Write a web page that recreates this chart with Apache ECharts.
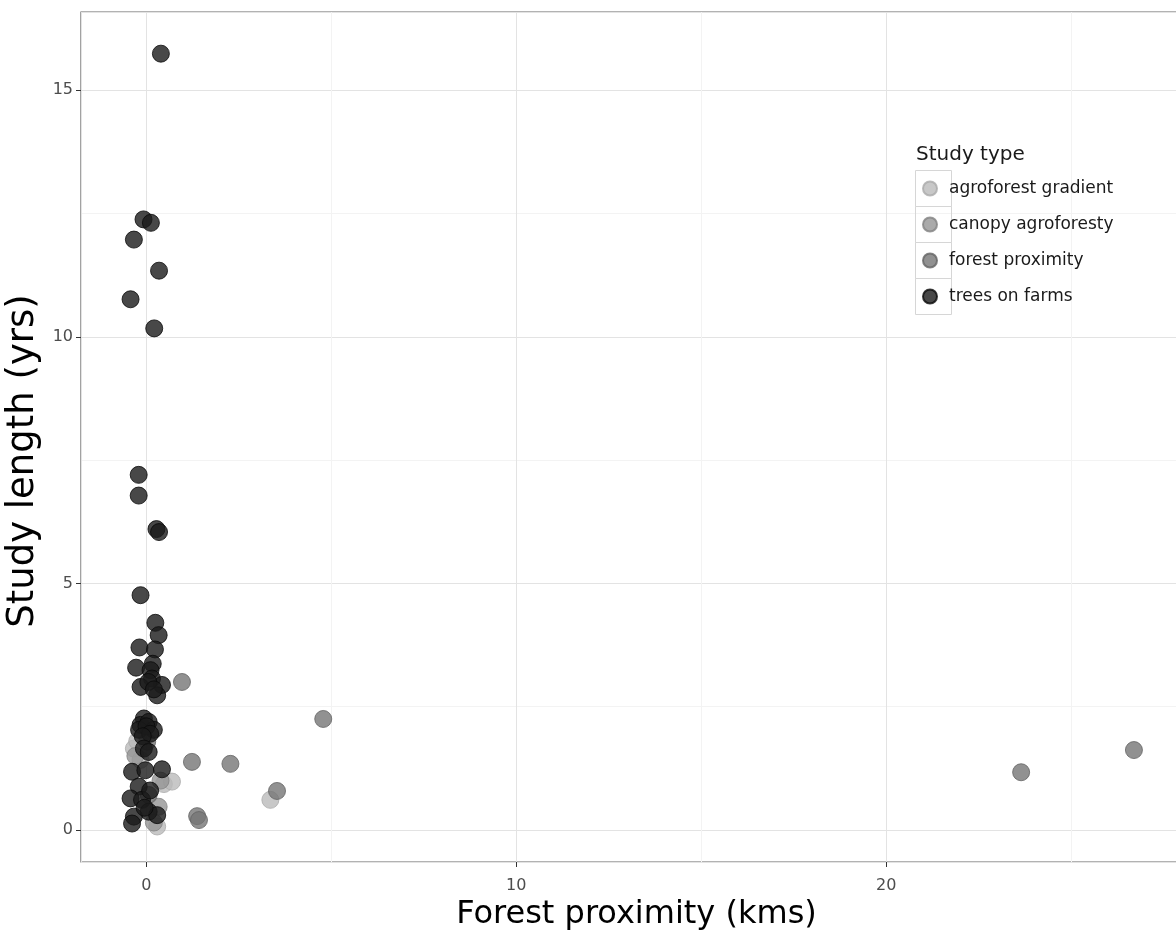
<!DOCTYPE html>
<html>
<head>
<meta charset="utf-8">
<script src="https://cdn.jsdelivr.net/npm/echarts@6/dist/echarts.min.js"></script>
<style>
html,body{margin:0;padding:0;background:#fff;}
#chart{width:1176px;height:936px;}
</style>
</head>
<body>
<div id="chart"></div>
<script>
// ---- data (x = forest proximity km, y = study length yrs) ----
const seriesNames = ['agroforest gradient', 'canopy agroforesty', 'forest proximity', 'trees on farms'];

const agroforestGradient = [
  [-0.34, 1.65], [-0.16, 1.42], [0.47, 0.93], [0.69, 0.98], [0.29, 0.07], [3.35, 0.61], [-0.25, 1.80]
];
const canopyAgroforesty = [
  [0.33, 0.47], [0.38, 1.00], [0.20, 0.15], [-0.30, 1.50]
];
const forestProximity = [
  [0.96, 3.00], [0.02, 1.79], [1.23, 1.38], [2.27, 1.34], [0.06, 0.71], [1.37, 0.28], [1.42, 0.20],
  [3.53, 0.79], [4.78, 2.25], [23.65, 1.17], [26.70, 1.62]
];
const treesOnFarms = [
  [0.39, 15.74], [-0.08, 12.38], [0.12, 12.31], [-0.34, 11.97], [0.34, 11.34], [-0.43, 10.76], [0.21, 10.17],
  [-0.21, 7.20], [-0.21, 6.78], [0.27, 6.10], [0.34, 6.04],
  [-0.16, 4.76], [0.24, 4.20], [0.33, 3.95], [-0.19, 3.70], [0.23, 3.66], [-0.28, 3.29], [0.17, 3.37],
  [0.11, 3.24], [0.15, 3.07], [0.42, 2.94], [-0.16, 2.90], [0.29, 2.73], [0.05, 3.00], [0.20, 2.85],
  [-0.07, 2.26], [-0.16, 2.13], [0.06, 2.19], [0.20, 2.03], [-0.20, 2.03], [0.00, 2.10], [0.10, 1.95], [-0.10, 1.90],
  [-0.07, 1.65], [0.06, 1.58],
  [-0.39, 1.18], [-0.03, 1.21], [0.42, 1.23], [-0.21, 0.88], [-0.43, 0.64], [-0.12, 0.61], [0.06, 0.37],
  [0.29, 0.30], [-0.34, 0.27], [-0.39, 0.13], [0.10, 0.80], [-0.05, 0.45]
];
const xTickLabels = [0, 10, 20];
const yTickLabels = [0, 5, 10, 15];

// ---- styling ----
const fills = ['rgba(186,186,186,0.8)', 'rgba(149,149,149,0.8)', 'rgba(117,117,117,0.8)', 'rgba(26,26,26,0.8)'];
const strokes = ['rgba(170,170,170,0.8)', 'rgba(130,130,130,0.8)', 'rgba(100,100,100,0.8)', 'rgba(10,10,10,0.8)'];
const font = 'DejaVu Sans';

const allData = [agroforestGradient, canopyAgroforesty, forestProximity, treesOnFarms];

const chart = echarts.init(document.getElementById('chart'), null, {renderer: 'canvas'});

const legendBoxes = seriesNames.map((n, i) => ({
  type: 'rect',
  left: 913, top: 168 + 36 * i,
  shape: {width: 36, height: 36},
  style: {fill: 'none', stroke: '#d6d6d6', lineWidth: 1},
  z: 1
}));

chart.setOption({
  animation: false,
  backgroundColor: '#ffffff',
  title: {
    text: 'Study type',
    left: 911, top: 140,
    textStyle: {fontFamily: font, fontSize: 20, fontWeight: 'normal', color: '#1a1a1a'}
  },
  legend: {
    orient: 'vertical',
    left: 917, top: 175,
    itemWidth: 28, itemHeight: 14, itemGap: 19,
    icon: 'circle',
    data: seriesNames,
    textStyle: {fontFamily: font, fontSize: 17, color: '#1a1a1a'},
    selectedMode: false
  },
  graphic: legendBoxes,
  grid: {
    left: 81, top: 12, right: -16, bottom: 74,
    containLabel: false,
    outerBoundsMode: 'none',
    show: true, borderColor: '#666666', borderWidth: 1.2, backgroundColor: '#ffffff'
  },
  xAxis: {
    type: 'value',
    min: -1.77, max: 28.27,
    minInterval: 10, maxInterval: 10, splitNumber: 3,
    name: 'Forest proximity (kms)',
    nameLocation: 'middle', nameGap: 36,
    nameTextStyle: {fontFamily: font, fontSize: 32, color: '#000'},
    axisLine: {show: false, onZero: false},
    axisTick: {show: true, length: 5, lineStyle: {color: '#333'}},
    axisLabel: {
      fontFamily: font, fontSize: 16, color: '#4d4d4d', margin: 16,
      showMinLabel: false, showMaxLabel: false,
      formatter: v => (xTickLabels.indexOf(Math.round(v * 100) / 100) >= 0 ? String(v) : '')
    },
    splitLine: {show: true, lineStyle: {color: '#e3e3e3', width: 1}},
    minorTick: {show: false, splitNumber: 2},
    minorSplitLine: {show: true, lineStyle: {color: '#f3f3f3', width: 1}}
  },
  yAxis: {
    type: 'value',
    min: -0.65, max: 16.585,
    minInterval: 5, maxInterval: 5, splitNumber: 4,
    name: 'Study length (yrs)',
    nameLocation: 'middle', nameGap: 32, nameRotate: 90,
    nameTextStyle: {fontFamily: font, fontSize: 37, color: '#000', padding: [0, 48, 0, 0]},
    axisLine: {show: false, onZero: false},
    axisTick: {show: true, length: 5, lineStyle: {color: '#333'}},
    axisLabel: {
      fontFamily: font, fontSize: 16, color: '#4d4d4d', margin: 8,
      showMinLabel: false, showMaxLabel: false,
      formatter: v => (yTickLabels.indexOf(Math.round(v * 100) / 100) >= 0 ? String(v) : '')
    },
    splitLine: {show: true, lineStyle: {color: '#e3e3e3', width: 1}},
    minorTick: {show: false, splitNumber: 2},
    minorSplitLine: {show: true, lineStyle: {color: '#f3f3f3', width: 1}}
  },
  series: seriesNames.map((name, i) => ({
    name: name,
    type: 'scatter',
    data: allData[i],
    symbol: 'circle',
    symbolSize: 17,
    itemStyle: {color: fills[i], borderColor: strokes[i], borderWidth: 1, opacity: 1},
    emphasis: {disabled: true},
    z: 2 + i
  }))
});
</script>
</body>
</html>
